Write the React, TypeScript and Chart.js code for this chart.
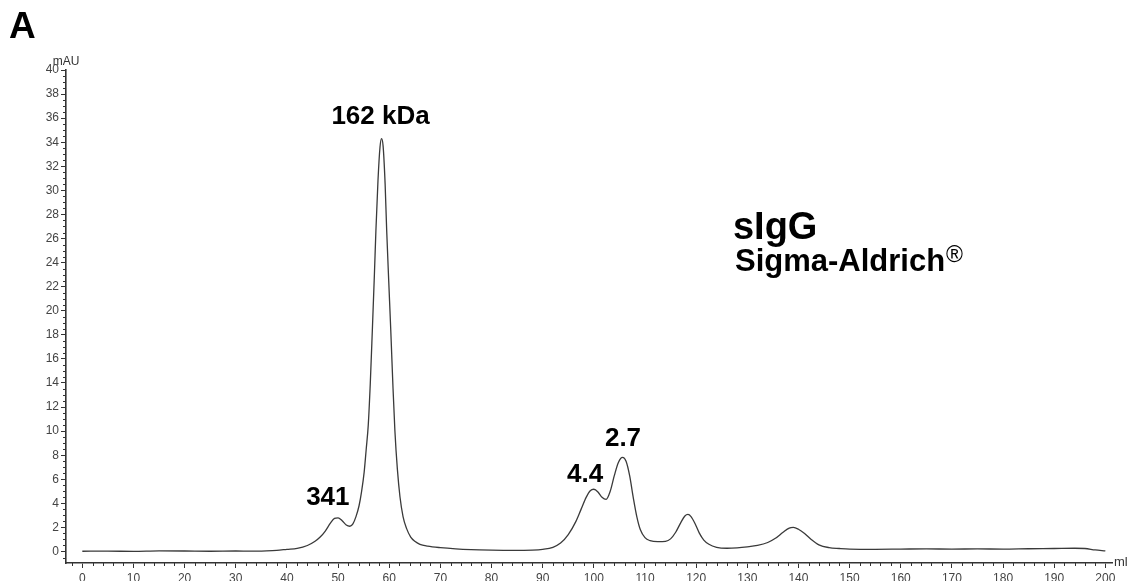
import React, { useEffect, useRef } from "react";
import { Chart, registerables } from "chart.js";

Chart.register(...registerables);

// Elution volume (ml) and absorbance (mAU)
const volumeMl: number[] = [
  0, 5, 10, 15, 20, 25, 30, 33, 36, 38, 40, 42, 44, 45.5, 46.5, 47.5, 48.5, 49.3, 50, 50.8,
  51.6, 52.3, 52.9, 53.5, 54.1, 54.6, 55.1, 55.5, 55.9, 56.3, 56.7, 57.1, 57.4, 57.8, 58.2, 58.5, 58.8,
  59.2, 59.5, 59.9, 60.3, 60.7, 61.1, 61.6, 62.1, 62.7, 63.4, 64.2, 65, 66, 67.5, 70, 73, 76,
  80, 84, 88, 90, 92, 93.5, 95, 96.5, 97.5, 98.5, 99.3, 100, 100.8, 101.6, 102.4, 103.2, 104,
  104.8, 105.6, 106.3, 107, 107.7, 108.4, 109.1, 110, 111, 112.5, 114, 115, 116, 117, 117.8,
  118.4, 119, 119.8, 120.6, 121.5, 122.5, 124, 126, 128, 130, 132, 134, 135.5, 137, 138.2, 139,
  140, 141.2, 142.5, 144, 146, 148, 150, 155, 160, 165, 170, 175, 180, 185, 190, 194, 196, 198, 200,
];
const absorbanceMAU: number[] = [
  0.02, 0.03, 0.01, 0.05, 0.04, 0.02, 0.04, 0.03, 0.06, 0.1, 0.18, 0.26, 0.5, 0.85, 1.2, 1.7, 2.35, 2.75, 2.8, 2.55,
  2.2, 2.1, 2.3, 2.9, 3.8, 5.0, 6.6, 8.5, 10.5, 14, 18.4, 23, 26.7, 30.8, 33.6, 34.3, 33.7,
  30.5, 26.7, 22.5, 18.4, 14, 10.1, 6.8, 4.55, 2.9, 1.9, 1.2, 0.85, 0.6, 0.45, 0.32, 0.22, 0.16,
  0.12, 0.1, 0.12, 0.18, 0.35, 0.7, 1.4, 2.5, 3.5, 4.5, 5.05, 5.17, 4.95, 4.5, 4.33, 5.0, 6.3,
  7.4, 7.82, 7.5, 6.3, 4.5, 2.9, 1.8, 1.15, 0.9, 0.82, 0.85, 1.05, 1.6, 2.4, 2.95,
  3.08, 2.9, 2.3, 1.55, 0.95, 0.6, 0.35, 0.27, 0.3, 0.38, 0.5, 0.75, 1.1, 1.6, 1.95, 2.0,
  1.85, 1.5, 1.0, 0.55, 0.32, 0.25, 0.2, 0.18, 0.2, 0.22, 0.2, 0.22, 0.2, 0.23, 0.25, 0.27, 0.25, 0.13, 0.05,
];

const xTickValues: number[] = [0, 10, 20, 30, 40, 50, 60, 70, 80, 90, 100, 110, 120, 130, 140, 150, 160, 170, 180, 190, 200];
const yTickValues: number[] = [0, 2, 4, 6, 8, 10, 12, 14, 16, 18, 20, 22, 24, 26, 28, 30, 32, 34, 36, 38, 40];

// Peak annotations (text, anchored in data coordinates)
const peakLabels: string[] = ["162 kDa", "341", "4.4", "2.7"];
const peakLabelMl: number[] = [58.3, 48.0, 98.3, 105.7];
const peakLabelMAU: number[] = [36.1, 4.5, 6.35, 9.35];

const FONT = "'Liberation Sans', Arial, Helvetica, sans-serif";
const AXIS_COLOR = "#333333";

const X_MIN = -3.19;
const X_MAX = 201.3;
const Y_MIN = -0.955;
const Y_MAX = 40;

const decorPlugin = {
  id: "decor",
  afterDraw(chart: any) {
    const ctx = chart.ctx as CanvasRenderingContext2D;
    const xs = chart.scales.x;
    const ys = chart.scales.y;
    const area = chart.chartArea;
    ctx.save();
    // minor ticks
    ctx.strokeStyle = AXIS_COLOR;
    ctx.lineWidth = 1;
    ctx.beginPath();
    for (let v = -2; v <= 200; v += 2) {
      if (v % 10 === 0) continue;
      const px = Math.round(xs.getPixelForValue(v)) + 0.5;
      ctx.moveTo(px, area.bottom);
      ctx.lineTo(px, area.bottom + 3);
    }
    for (let v = -0.5; v <= 40; v += 0.5) {
      if (Math.abs(v % 2) < 1e-6) continue;
      const py = Math.round(ys.getPixelForValue(v)) + 0.5;
      ctx.moveTo(area.left, py);
      ctx.lineTo(area.left - 3, py);
    }
    ctx.stroke();

    // axis units
    ctx.fillStyle = AXIS_COLOR;
    ctx.font = `12px ${FONT}`;
    ctx.textBaseline = "alphabetic";
    ctx.textAlign = "center";
    ctx.fillText("mAU", area.left, area.top - 5);
    ctx.textAlign = "left";
    ctx.font = `13px ${FONT}`;
    ctx.fillText("ml", area.right + 2, area.bottom + 3);

    // panel letter
    ctx.fillStyle = "#000";
    ctx.font = `bold 37px ${FONT}`;
    ctx.fillText("A", 9, 38);

    // peak labels
    ctx.font = `bold 26px ${FONT}`;
    ctx.textAlign = "center";
    ctx.textBaseline = "middle";
    peakLabels.forEach((t, i) => {
      ctx.fillText(t, xs.getPixelForValue(peakLabelMl[i]), ys.getPixelForValue(peakLabelMAU[i]));
    });

    // sample label
    ctx.textAlign = "left";
    ctx.textBaseline = "alphabetic";
    const lx = xs.getPixelForValue(127.2);
    ctx.font = `bold 38px ${FONT}`;
    ctx.fillText("sIgG", lx, ys.getPixelForValue(26.0));
    ctx.font = `bold 31px ${FONT}`;
    const base2 = ys.getPixelForValue(23.3);
    ctx.fillText("Sigma-Aldrich", lx + 2, base2);
    const w = ctx.measureText("Sigma-Aldrich").width;
    ctx.font = `23px ${FONT}`;
    ctx.fillText("\u00AE", lx + 3 + w, base2 - 9);
    ctx.restore();
  },
};

export default function App() {
  const canvasRef = useRef<HTMLCanvasElement | null>(null);

  useEffect(() => {
    if (!canvasRef.current) return;
    const points = volumeMl.map((v, i) => ({ x: v, y: absorbanceMAU[i] }));
    const chart = new Chart(canvasRef.current, {
      type: "line",
      data: {
        datasets: [
          {
            data: points,
            borderColor: "#3a3a3a",
            borderWidth: 1.3,
            pointRadius: 0,
            fill: false,
            cubicInterpolationMode: "monotone",
          },
        ],
      },
      options: {
        responsive: false,
        animation: false,
        devicePixelRatio: 1,
        layout: { padding: { left: 0, top: 70, right: 17, bottom: 0 } },
        plugins: { legend: { display: false }, tooltip: { enabled: false }, title: { display: false } },
        scales: {
          x: {
            type: "linear",
            min: X_MIN,
            max: X_MAX,
            afterBuildTicks: (scale: any) => {
              scale.ticks = xTickValues.map((v) => ({ value: v }));
            },
            afterFit: (scale: any) => {
              scale.height = 18;
            },
            border: { color: AXIS_COLOR, width: 1.6 },
            grid: { drawOnChartArea: false, tickLength: 5, color: AXIS_COLOR, tickWidth: 1 },
            ticks: {
              autoSkip: false,
              maxRotation: 0,
              padding: 3,
              color: "#444",
              font: { family: FONT, size: 12 },
              callback: (v: any) => String(v),
            },
          },
          y: {
            type: "linear",
            min: Y_MIN,
            max: Y_MAX,
            afterBuildTicks: (scale: any) => {
              scale.ticks = yTickValues.map((v) => ({ value: v }));
            },
            afterFit: (scale: any) => {
              scale.width = 66;
            },
            border: { color: AXIS_COLOR, width: 1.6 },
            grid: { drawOnChartArea: false, tickLength: 5, color: AXIS_COLOR, tickWidth: 1 },
            ticks: {
              autoSkip: false,
              padding: 2,
              color: "#444",
              font: { family: FONT, size: 12 },
              callback: (v: any) => String(v),
            },
          },
        },
      },
      plugins: [decorPlugin],
    } as any);
    return () => chart.destroy();
  }, []);

  return (
    <div style={{ position: "fixed", left: 0, top: 0, width: 1129, height: 581, background: "#fff" }}>
      <canvas ref={canvasRef} width={1129} height={581} style={{ display: "block", width: 1129, height: 581 }} />
    </div>
  );
}
